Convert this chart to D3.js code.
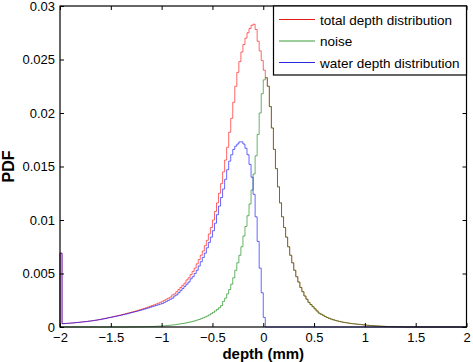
<!DOCTYPE html>
<html>
<head>
<meta charset="utf-8">
<script src="https://cdn.jsdelivr.net/npm/d3@7"></script>
<style>
  body { margin: 0; background: #fff; }
  text { font-family: "Liberation Sans", Arial, sans-serif; }
</style>
</head>
<body>
<div id="chart_div"></div>
<script>
// histogram bins: 0.02 mm wide, from -2 to 2 (10 bins per row below)
var binStart = -2,
  binWidth = 0.02;

// total depth distribution (red)
var totalPdf = [
  0.0069, 0.00031, 0.00032, 0.00034, 0.00035, 0.00037, 0.00038, 0.0004, 0.00042, 0.00044,
  0.00046, 0.00048, 0.0005, 0.00052, 0.00055, 0.00057, 0.0006, 0.00063, 0.00066, 0.00069,
  0.00073, 0.00077, 0.00081, 0.00085, 0.00089, 0.00093, 0.00097, 0.00101, 0.00105, 0.0011,
  0.00115, 0.0012, 0.00125, 0.0013, 0.00135, 0.0014, 0.00145, 0.0015, 0.00156, 0.00162,
  0.00168, 0.00174, 0.0018, 0.00187, 0.00194, 0.00201, 0.00208, 0.00215, 0.00222, 0.0023,
  0.0024, 0.0025, 0.0026, 0.0027, 0.0028, 0.003, 0.0031, 0.0033, 0.0035, 0.0037,
  0.0039, 0.0041, 0.0044, 0.0046, 0.0049, 0.0052, 0.0055, 0.0059, 0.0063, 0.0067,
  0.0071, 0.0076, 0.0081, 0.0087, 0.0093, 0.010, 0.0108, 0.0116, 0.0125, 0.0134,
  0.0145, 0.0156, 0.0168, 0.0182, 0.0195, 0.0210, 0.0225, 0.0238, 0.0248, 0.0257,
  0.0264, 0.0270, 0.0275, 0.0279, 0.0282, 0.0283, 0.0278, 0.0267, 0.0258, 0.0249,
  0.0240, 0.0233, 0.0225, 0.0206, 0.0186, 0.0166, 0.0148, 0.0131, 0.0116, 0.0103,
  0.0093, 0.0084, 0.0075, 0.0067, 0.0060, 0.0053, 0.0047, 0.0042, 0.0037, 0.0033,
  0.0029, 0.0026, 0.0023, 0.0021, 0.0019, 0.0017, 0.0015, 0.0013, 0.0012, 0.0011,
  0.00098, 0.00089, 0.00081, 0.00074, 0.00068, 0.00062, 0.00057, 0.00052, 0.00048, 0.00044,
  0.00041, 0.00038, 0.00035, 0.00032, 0.0003, 0.00028, 0.00026, 0.00024, 0.00022, 0.0002,
  0.00018, 0.00016, 0.00014, 0.00013, 0.00012, 0.0001, 0.00009, 0.00008, 0.00007, 0.00006,
  0.00005, 0.00004, 0.00004, 0.00003, 0.00003, 0.00002, 0.00002, 0.00002, 0.00001, 0.00001,
  0, 0, 0, 0, 0, 0, 0, 0, 0, 0,
  0, 0, 0, 0, 0, 0, 0, 0, 0, 0,
  0, 0, 0, 0, 0, 0, 0, 0, 0, 0
];

// noise (green)
var noisePdf = [
  0, 0, 0, 0, 0, 0, 0, 0, 0, 0,
  0, 0, 0, 0, 0, 0, 0, 0, 0, 0,
  0, 0, 0, 0, 0, 0, 0, 0, 0, 0,
  0, 0, 0, 0, 0.00001, 0.00001, 0.00001, 0.00001, 0.00002, 0.00002,
  0.00002, 0.00003, 0.00003, 0.00004, 0.00004, 0.00005, 0.00006, 0.00007, 0.00008, 0.00009,
  0.0001, 0.00011, 0.00013, 0.00015, 0.00017, 0.00019, 0.00021, 0.00024, 0.00027, 0.0003,
  0.00033, 0.00036, 0.0004, 0.00044, 0.00048, 0.00053, 0.00058, 0.00064, 0.0007, 0.00077,
  0.00085, 0.00093, 0.00102, 0.00112, 0.00124, 0.00137, 0.0015, 0.00165, 0.0018, 0.002,
  0.0024, 0.0027, 0.0031, 0.0035, 0.0040, 0.0046, 0.0053, 0.0060, 0.0067, 0.0075,
  0.0085, 0.0094, 0.0104, 0.0115, 0.0128, 0.0143, 0.0160, 0.0180, 0.0200, 0.0218,
  0.0231, 0.0233, 0.0225, 0.0206, 0.0186, 0.0166, 0.0148, 0.0131, 0.0116, 0.0103,
  0.0093, 0.0084, 0.0075, 0.0067, 0.0060, 0.0053, 0.0047, 0.0042, 0.0037, 0.0033,
  0.0029, 0.0026, 0.0023, 0.0021, 0.0019, 0.0017, 0.0015, 0.0013, 0.0012, 0.0011,
  0.00098, 0.00089, 0.00081, 0.00074, 0.00068, 0.00062, 0.00057, 0.00052, 0.00048, 0.00044,
  0.00041, 0.00038, 0.00035, 0.00032, 0.0003, 0.00028, 0.00026, 0.00024, 0.00022, 0.0002,
  0.00018, 0.00016, 0.00014, 0.00013, 0.00012, 0.0001, 0.00009, 0.00008, 0.00007, 0.00006,
  0.00005, 0.00004, 0.00004, 0.00003, 0.00003, 0.00002, 0.00002, 0.00002, 0.00001, 0.00001,
  0, 0, 0, 0, 0, 0, 0, 0, 0, 0,
  0, 0, 0, 0, 0, 0, 0, 0, 0, 0,
  0, 0, 0, 0, 0, 0, 0, 0, 0, 0
];

// water depth distribution (blue)
var waterPdf = [
  0.0069, 0.00031, 0.00032, 0.00034, 0.00035, 0.00037, 0.00038, 0.0004, 0.00042, 0.00044,
  0.00046, 0.00048, 0.0005, 0.00052, 0.00055, 0.00057, 0.0006, 0.00063, 0.00066, 0.00069,
  0.00072, 0.00076, 0.0008, 0.00084, 0.00088, 0.00092, 0.00096, 0.001, 0.00104, 0.00108,
  0.00112, 0.00116, 0.0012, 0.00125, 0.0013, 0.00135, 0.0014, 0.00145, 0.0015, 0.00155,
  0.0016, 0.00166, 0.00172, 0.00178, 0.00184, 0.0019, 0.00196, 0.00202, 0.00208, 0.00214,
  0.0022, 0.0023, 0.0024, 0.0025, 0.0026, 0.0027, 0.0029, 0.003, 0.0032, 0.0034,
  0.0036, 0.0038, 0.004, 0.0042, 0.0045, 0.0047, 0.005, 0.0053, 0.0057, 0.0061,
  0.0065, 0.0069, 0.0074, 0.0079, 0.0084, 0.009, 0.0097, 0.0105, 0.0113, 0.0121,
  0.0129, 0.0138, 0.0147, 0.0155, 0.0161, 0.0166, 0.0169, 0.0171, 0.0173, 0.0173,
  0.0171, 0.0167, 0.0161, 0.0152, 0.0140, 0.0124, 0.0103, 0.0080, 0.0055, 0.0032,
  0.0009, 0, 0, 0, 0, 0, 0, 0, 0, 0,
  0, 0, 0, 0, 0, 0, 0, 0, 0, 0,
  0, 0, 0, 0, 0, 0, 0, 0, 0, 0,
  0, 0, 0, 0, 0, 0, 0, 0, 0, 0,
  0, 0, 0, 0, 0, 0, 0, 0, 0, 0,
  0, 0, 0, 0, 0, 0, 0, 0, 0, 0,
  0, 0, 0, 0, 0, 0, 0, 0, 0, 0,
  0, 0, 0, 0, 0, 0, 0, 0, 0, 0,
  0, 0, 0, 0, 0, 0, 0, 0, 0, 0,
  0, 0, 0, 0, 0, 0, 0, 0, 0, 0
];

var seriesNames = ['total depth distribution', 'noise', 'water depth distribution'];
var seriesColors = ['#ff0000', '#008000', '#0000ff'];
var legendColors = ['#e31a1a', '#3a9d3a', '#2a2ae0'];

var xTicks = [-2, -1.5, -1, -0.5, 0, 0.5, 1, 1.5, 2];
var xTickLabels = ['\u22122', '\u22121.5', '\u22121', '\u22120.5', '0', '0.5', '1', '1.5', '2'];
var yTicks = [0, 0.005, 0.01, 0.015, 0.02, 0.025, 0.03];
var yTickLabels = ['0', '0.005', '0.01', '0.015', '0.02', '0.025', '0.03'];

var svg_width = 473,
  svg_height = 362,
  plot_left = 60,
  plot_right = 466.5,
  plot_top = 6,
  plot_bottom = 327;

var svg = d3.select('#chart_div')
  .append('svg')
  .attr('width', svg_width)
  .attr('height', svg_height);

var x = d3.scaleLinear().domain([-2, 2]).range([plot_left, plot_right]);
var y = d3.scaleLinear().domain([0, 0.03]).range([plot_bottom, plot_top]);

// turn a list of bin heights into stair points
function stairs(values) {
  var pts = [[binStart, 0]];
  values.forEach(function (v, i) {
    pts.push([binStart + i * binWidth, v]);
  });
  pts.push([binStart + values.length * binWidth, values[values.length - 1]]);
  return pts;
}

var line = d3.line()
  .x(function (d) { return x(d[0]); })
  .y(function (d) { return y(d[1]); })
  .curve(d3.curveStepAfter);

var curveLayer = svg.append('g');
[totalPdf, noisePdf, waterPdf].forEach(function (vals, k) {
  curveLayer.append('path')
    .attr('d', line(stairs(vals)))
    .attr('fill', 'none')
    .attr('stroke', seriesColors[k])
    .attr('stroke-opacity', 0.6)
    .attr('stroke-width', 1);
});

// axes, MATLAB-like box with inward ticks
var tickLen = 4;
var xAxisB = d3.axisBottom(x).tickValues(xTicks).tickSizeInner(-tickLen).tickSizeOuter(0)
  .tickPadding(6).tickFormat(function (d, i) { return xTickLabels[i]; });
var xAxisT = d3.axisTop(x).tickValues(xTicks).tickSizeInner(-tickLen).tickSizeOuter(0)
  .tickFormat('');
var yAxisL = d3.axisLeft(y).tickValues(yTicks).tickSizeInner(-tickLen).tickSizeOuter(0)
  .tickPadding(5).tickFormat(function (d, i) { return yTickLabels[i]; });
var yAxisR = d3.axisRight(y).tickValues(yTicks).tickSizeInner(-tickLen).tickSizeOuter(0)
  .tickFormat('');

function styleAxis(g) {
  g.select('.domain').remove();
  g.selectAll('line').attr('stroke', '#000');
  g.selectAll('text').attr('fill', '#000').style('font-size', '13px')
    .style('font-family', '"Liberation Sans", Arial, sans-serif');
}

svg.append('g').attr('transform', 'translate(0,' + plot_bottom + ')').call(xAxisB).call(styleAxis);
svg.append('g').attr('transform', 'translate(0,' + plot_top + ')').call(xAxisT).call(styleAxis);
svg.append('g').attr('transform', 'translate(' + plot_left + ',0)').call(yAxisL).call(styleAxis);
svg.append('g').attr('transform', 'translate(' + plot_right + ',0)').call(yAxisR).call(styleAxis);

svg.append('rect')
  .attr('x', plot_left)
  .attr('y', plot_top)
  .attr('width', plot_right - plot_left)
  .attr('height', plot_bottom - plot_top)
  .attr('fill', 'none')
  .attr('stroke', '#000')
  .attr('stroke-width', 1.2);

// axis labels
svg.append('text')
  .attr('x', (plot_left + plot_right) / 2)
  .attr('y', 359)
  .attr('text-anchor', 'middle')
  .attr('style', 'font-size: 15px; font-weight: bold')
  .text('depth (mm)');

svg.append('text')
  .attr('transform', 'translate(13.5,' + ((plot_top + plot_bottom) / 2) + ') rotate(-90)')
  .attr('text-anchor', 'middle')
  .attr('style', 'font-size: 16px; font-weight: bold')
  .text('PDF');

// legend
var legend = svg.append('g').classed('legend', true);
legend.append('rect')
  .attr('x', 273.5)
  .attr('y', plot_top)
  .attr('width', plot_right - 273.5)
  .attr('height', 69)
  .attr('fill', '#fff')
  .attr('stroke', '#000')
  .attr('stroke-width', 1.2);

for (var i = 0; i < seriesNames.length; i++) {
  var ly = 19.5 + i * 21.5;
  legend.append('line')
    .attr('x1', 279)
    .attr('x2', 315)
    .attr('y1', ly)
    .attr('y2', ly)
    .attr('stroke', legendColors[i])
    .attr('stroke-width', 1);
  legend.append('text')
    .attr('x', 320)
    .attr('y', ly + 5)
    .attr('style', 'font-size: 13.5px')
    .text(seriesNames[i]);
}
</script>
</body>
</html>
